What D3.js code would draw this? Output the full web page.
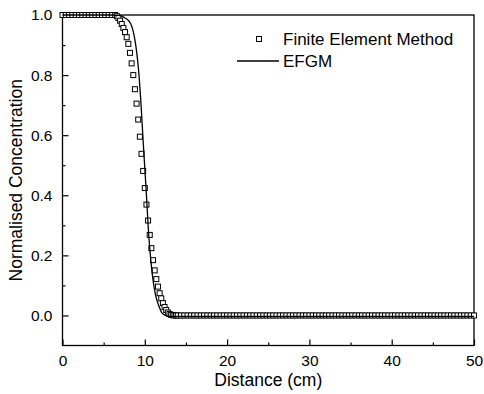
<!DOCTYPE html>
<html>
<head>
<meta charset="utf-8">
<script src="https://cdn.jsdelivr.net/npm/d3@7"></script>
<style>
    body { margin: 0; background: #fff; }
    text { font-family: "Liberation Sans", Arial, sans-serif; fill: #000; }
</style>
</head>
<body>
<div id="chart"></div>
<script>
// Finite Element Method results (squares)
const femX = [0, 0.4, 0.8, 1.2, 1.6, 2.0, 2.4, 2.8, 3.2, 3.6, 4.0, 4.4, 4.8, 5.2, 5.6, 6.0, 6.4,
    6.6, 6.8, 7.0, 7.2, 7.4, 7.6, 7.8, 8.0, 8.2, 8.4, 8.6, 8.8, 9.0, 9.2, 9.4, 9.6, 9.8, 10.0,
    10.2, 10.4, 10.6, 10.8, 11.0, 11.2, 11.4, 11.6, 11.8, 12.0, 12.2, 12.4, 12.6, 12.8, 13.0,
    13.2, 13.4, 13.6, 13.8, 14.0,
    14.4, 14.8, 15.2, 15.6, 16.0, 16.4, 16.8, 17.2, 17.6, 18.0, 18.4, 18.8, 19.2, 19.6, 20.0,
    20.4, 20.8, 21.2, 21.6, 22.0, 22.4, 22.8, 23.2, 23.6, 24.0, 24.4, 24.8, 25.2, 25.6, 26.0,
    26.4, 26.8, 27.2, 27.6, 28.0, 28.4, 28.8, 29.2, 29.6, 30.0, 30.4, 30.8, 31.2, 31.6, 32.0,
    32.4, 32.8, 33.2, 33.6, 34.0, 34.4, 34.8, 35.2, 35.6, 36.0, 36.4, 36.8, 37.2, 37.6, 38.0,
    38.4, 38.8, 39.2, 39.6, 40.0, 40.4, 40.8, 41.2, 41.6, 42.0, 42.4, 42.8, 43.2, 43.6, 44.0,
    44.4, 44.8, 45.2, 45.6, 46.0, 46.4, 46.8, 47.2, 47.6, 48.0, 48.4, 48.8, 49.2, 49.6, 50.0];
const femC = [1, 1, 1, 1, 1, 1, 1, 1, 1, 1, 1, 1, 1, 1, 1, 1, 1,
    0.996, 0.99, 0.981, 0.97, 0.957, 0.943, 0.926, 0.904, 0.874, 0.839, 0.80, 0.753, 0.705,
    0.652, 0.595, 0.538, 0.481, 0.424, 0.369, 0.316, 0.268, 0.224, 0.184, 0.150, 0.121, 0.096,
    0.074, 0.057, 0.041, 0.028, 0.018, 0.010, 0.005, 0.002, 0.001, 0, 0, 0,
    0, 0, 0, 0, 0, 0, 0, 0, 0, 0, 0, 0, 0, 0, 0,
    0, 0, 0, 0, 0, 0, 0, 0, 0, 0, 0, 0, 0, 0, 0,
    0, 0, 0, 0, 0, 0, 0, 0, 0, 0, 0, 0, 0, 0, 0,
    0, 0, 0, 0, 0, 0, 0, 0, 0, 0, 0, 0, 0, 0, 0,
    0, 0, 0, 0, 0, 0, 0, 0, 0, 0, 0, 0, 0, 0, 0,
    0, 0, 0, 0, 0, 0, 0, 0, 0, 0, 0, 0, 0, 0, 0];

// EFGM results (solid line)
const efgmX = [0, 6.0, 6.8, 7.2, 7.6, 8.0, 8.3, 8.6, 8.9, 9.2, 9.5, 9.8, 10.0, 10.2, 10.4, 10.6,
    10.8, 11.0, 11.2, 11.4, 11.6, 11.8, 12.0, 12.3, 12.7, 13.2, 14, 20, 30, 40, 50];
const efgmC = [1.0, 1.0, 0.999, 0.996, 0.99, 0.982, 0.97, 0.945, 0.9, 0.83, 0.72, 0.58, 0.49,
    0.40, 0.30, 0.225, 0.165, 0.118, 0.083, 0.058, 0.04, 0.025, 0.012, 0.003, -0.002, -0.003,
    -0.003, -0.003, -0.003, -0.003, -0.003];

const xMajor = [0, 10, 20, 30, 40, 50];
const xMinor = [5, 15, 25, 35, 45];
const yMajor = [0.0, 0.2, 0.4, 0.6, 0.8, 1.0];
const yMinor = [0.1, 0.3, 0.5, 0.7, 0.9];
const legendLabels = ["Finite Element Method", "EFGM"];

const width = 484, height = 394;
const _margin = { top: 15, right: 10, bottom: 48.5, left: 62.5 };

const svg = d3.select("#chart").append("svg")
    .attr("width", width)
    .attr("height", height)
    .style("background", "#fff");

const x = d3.scaleLinear().domain([0, 50]).range([_margin.left, width - _margin.right]);
const y = d3.scaleLinear().domain([-0.1, 1.0]).range([height - _margin.bottom, _margin.top]);

// frame
svg.append("rect")
    .attr("x", x(0)).attr("y", y(1.0))
    .attr("width", x(50) - x(0)).attr("height", y(-0.1) - y(1.0))
    .attr("fill", "none").attr("stroke", "#000").attr("stroke-width", 1.3);

// axes (ticks inside)
const xAxis = svg.append("g").attr("class", "x-axis")
    .attr("transform", `translate(0,${y(-0.1)})`)
    .call(d3.axisBottom(x).tickValues(xMajor).tickSize(-6).tickPadding(9).tickFormat(d3.format("d")));
svg.append("g")
    .attr("transform", `translate(0,${y(-0.1)})`)
    .call(d3.axisBottom(x).tickValues(xMinor).tickSize(-3).tickFormat(""));
const yAxis = svg.append("g").attr("class", "y-axis")
    .attr("transform", `translate(${x(0)},0)`)
    .call(d3.axisLeft(y).tickValues(yMajor).tickSize(-6).tickPadding(10).tickFormat(d3.format(".1f")));
svg.append("g")
    .attr("transform", `translate(${x(0)},0)`)
    .call(d3.axisLeft(y).tickValues(yMinor).tickSize(-3).tickFormat(""));

svg.selectAll(".domain").remove();
svg.selectAll(".tick line").attr("stroke", "#000").attr("stroke-width", 1.2);
svg.selectAll(".tick text").style("font-size", "15.5px").style("font-family", "Liberation Sans, Arial, sans-serif");

// axis titles
svg.append("text")
    .attr("x", (x(0) + x(50)) / 2)
    .attr("y", 386)
    .attr("text-anchor", "middle")
    .style("font-size", "17.5px")
    .text("Distance (cm)");
svg.append("text")
    .attr("transform", `translate(22,${(y(-0.1) + y(1.0)) / 2}) rotate(-90)`)
    .attr("text-anchor", "middle")
    .style("font-size", "17.5px")
    .text("Normalised Concentration");

// squares
const sq = 5;
const femData = femX.map((d, i) => ({ x: d, c: femC[i] }));
svg.selectAll(".fem")
    .data(femData)
    .enter()
    .append("rect")
    .attr("class", "fem")
    .attr("x", d => x(d.x) - sq / 2)
    .attr("y", d => y(d.c) - sq / 2)
    .attr("width", sq)
    .attr("height", sq)
    .attr("fill", "#fff")
    .attr("stroke", "#000")
    .attr("stroke-width", 1);

// line
const efgmData = efgmX.map((d, i) => ({ x: d, c: efgmC[i] }));
svg.append("path")
    .datum(efgmData)
    .attr("fill", "none")
    .attr("stroke", "#000")
    .attr("stroke-width", 1.3)
    .attr("d", d3.line().x(d => x(d.x)).y(d => y(d.c)).curve(d3.curveMonotoneX));

// legend
const legend = svg.append("g");
legend.append("rect")
    .attr("x", 259 - sq / 2).attr("y", 39 - sq / 2)
    .attr("width", sq).attr("height", sq)
    .attr("fill", "#fff").attr("stroke", "#000").attr("stroke-width", 1);
legend.append("line")
    .attr("x1", 237).attr("x2", 279).attr("y1", 61).attr("y2", 61)
    .attr("stroke", "#000").attr("stroke-width", 1.3);
legend.selectAll(".legendLabel")
    .data(legendLabels)
    .enter()
    .append("text")
    .attr("class", "legendLabel")
    .attr("x", 283)
    .attr("y", (d, i) => 45 + i * 22)
    .style("font-size", "17px")
    .text(d => d);
</script>
</body>
</html>
